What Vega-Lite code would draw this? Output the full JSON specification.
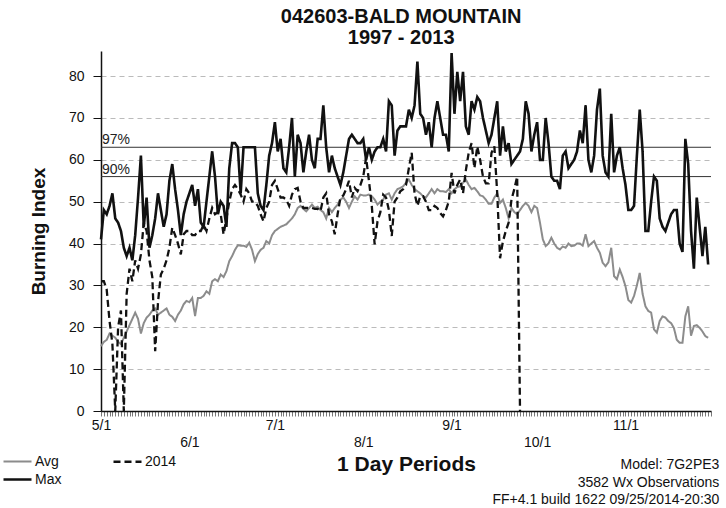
{
  "$schema": "https://vega.github.io/schema/vega-lite/v6.json",
  "background": "white",
  "padding": {"left": 9, "top": 6, "right": 9, "bottom": 4},
  "title": {"text": ["042603-BALD MOUNTAIN", "1997 - 2013"], "fontSize": 20, "fontWeight": "bold", "lineHeight": 21, "anchor": "middle", "color": "#111", "offset": 0, "dx": 37},
  "config": {
    "font": "Liberation Sans",
    "view": {"stroke": null},
    "axis": {"domainColor": "#111", "tickColor": "#111", "labelColor": "#111", "titleColor": "#111"}
  },
  "datasets": {
    "bi": [
      {"date":"2014/05/01","Avg":15.5,"Max":41,"2014":31},
      {"date":"2014/05/02","Avg":16.5,"Max":48,"2014":31},
      {"date":"2014/05/03","Avg":17,"Max":47,"2014":29},
      {"date":"2014/05/04","Avg":18.5,"Max":49,"2014":21.5},
      {"date":"2014/05/05","Avg":18,"Max":52,"2014":16},
      {"date":"2014/05/06","Avg":17.5,"Max":46,"2014":0},
      {"date":"2014/05/07","Avg":16.5,"Max":45,"2014":20},
      {"date":"2014/05/08","Avg":16,"Max":43,"2014":24},
      {"date":"2014/05/09","Avg":17.5,"Max":39,"2014":0},
      {"date":"2014/05/10","Avg":19,"Max":37,"2014":28},
      {"date":"2014/05/11","Avg":20.5,"Max":39,"2014":34},
      {"date":"2014/05/12","Avg":22,"Max":36,"2014":31},
      {"date":"2014/05/13","Avg":23.5,"Max":42,"2014":36},
      {"date":"2014/05/14","Avg":22,"Max":51,"2014":34},
      {"date":"2014/05/15","Avg":18.5,"Max":61,"2014":37.4},
      {"date":"2014/05/16","Avg":21,"Max":44,"2014":45},
      {"date":"2014/05/17","Avg":22.3,"Max":51,"2014":43},
      {"date":"2014/05/18","Avg":23,"Max":39,"2014":36},
      {"date":"2014/05/19","Avg":24,"Max":42,"2014":32},
      {"date":"2014/05/20","Avg":24.5,"Max":46,"2014":14.3},
      {"date":"2014/05/21","Avg":23,"Max":52,"2014":26},
      {"date":"2014/05/22","Avg":23.5,"Max":48,"2014":32.6},
      {"date":"2014/05/23","Avg":24,"Max":44,"2014":34},
      {"date":"2014/05/24","Avg":24.5,"Max":47,"2014":36},
      {"date":"2014/05/25","Avg":23,"Max":55,"2014":39},
      {"date":"2014/05/26","Avg":22.5,"Max":59,"2014":43.8},
      {"date":"2014/05/27","Avg":21.5,"Max":53,"2014":42},
      {"date":"2014/05/28","Avg":23,"Max":48,"2014":40},
      {"date":"2014/05/29","Avg":24,"Max":42,"2014":37.4},
      {"date":"2014/05/30","Avg":25.5,"Max":47,"2014":42.2},
      {"date":"2014/05/31","Avg":26.3,"Max":50,"2014":43},
      {"date":"2014/06/01","Avg":26,"Max":52,"2014":43},
      {"date":"2014/06/02","Avg":27,"Max":54,"2014":42},
      {"date":"2014/06/03","Avg":22.7,"Max":49,"2014":42},
      {"date":"2014/06/04","Avg":27,"Max":53,"2014":43},
      {"date":"2014/06/05","Avg":27,"Max":45,"2014":43},
      {"date":"2014/06/06","Avg":27.5,"Max":44,"2014":44.5},
      {"date":"2014/06/07","Avg":28.6,"Max":50,"2014":43},
      {"date":"2014/06/08","Avg":28,"Max":56,"2014":46},
      {"date":"2014/06/09","Avg":31,"Max":62,"2014":48.5},
      {"date":"2014/06/10","Avg":31.5,"Max":56,"2014":47},
      {"date":"2014/06/11","Avg":31,"Max":47,"2014":47.5},
      {"date":"2014/06/12","Avg":32.6,"Max":50,"2014":47},
      {"date":"2014/06/13","Avg":32,"Max":49,"2014":42.2},
      {"date":"2014/06/14","Avg":33.4,"Max":44,"2014":46},
      {"date":"2014/06/15","Avg":35.8,"Max":58,"2014":50},
      {"date":"2014/06/16","Avg":37,"Max":64,"2014":53},
      {"date":"2014/06/17","Avg":38.5,"Max":64,"2014":54},
      {"date":"2014/06/18","Avg":39.6,"Max":63,"2014":53},
      {"date":"2014/06/19","Avg":39.5,"Max":52,"2014":51.7},
      {"date":"2014/06/20","Avg":39.5,"Max":63,"2014":50},
      {"date":"2014/06/21","Avg":39.2,"Max":63,"2014":53},
      {"date":"2014/06/22","Avg":40.2,"Max":63,"2014":52},
      {"date":"2014/06/23","Avg":38.5,"Max":63,"2014":50},
      {"date":"2014/06/24","Avg":35.8,"Max":63,"2014":50},
      {"date":"2014/06/25","Avg":37.5,"Max":52,"2014":49},
      {"date":"2014/06/26","Avg":38.5,"Max":49,"2014":47},
      {"date":"2014/06/27","Avg":39,"Max":48,"2014":45.3},
      {"date":"2014/06/28","Avg":40.6,"Max":54,"2014":48.5},
      {"date":"2014/06/29","Avg":40,"Max":61,"2014":50},
      {"date":"2014/06/30","Avg":42,"Max":64,"2014":54},
      {"date":"2014/07/01","Avg":43,"Max":69,"2014":55},
      {"date":"2014/07/02","Avg":43.5,"Max":62,"2014":53},
      {"date":"2014/07/03","Avg":44,"Max":65,"2014":51},
      {"date":"2014/07/04","Avg":44.3,"Max":58,"2014":51},
      {"date":"2014/07/05","Avg":44.6,"Max":57,"2014":50.5},
      {"date":"2014/07/06","Avg":45.3,"Max":63,"2014":49},
      {"date":"2014/07/07","Avg":46,"Max":70,"2014":51.7},
      {"date":"2014/07/08","Avg":47,"Max":56,"2014":53},
      {"date":"2014/07/09","Avg":48.5,"Max":66,"2014":53.3},
      {"date":"2014/07/10","Avg":49,"Max":64,"2014":50},
      {"date":"2014/07/11","Avg":48.3,"Max":57,"2014":48.5},
      {"date":"2014/07/12","Avg":47.7,"Max":62,"2014":48.5},
      {"date":"2014/07/13","Avg":48.5,"Max":66,"2014":48.5},
      {"date":"2014/07/14","Avg":49.3,"Max":60,"2014":48.5},
      {"date":"2014/07/15","Avg":48.5,"Max":58,"2014":48.3},
      {"date":"2014/07/16","Avg":48.8,"Max":65,"2014":48.3},
      {"date":"2014/07/17","Avg":48,"Max":65,"2014":47.7},
      {"date":"2014/07/18","Avg":47.5,"Max":73,"2014":51},
      {"date":"2014/07/19","Avg":46,"Max":63,"2014":52},
      {"date":"2014/07/20","Avg":48.5,"Max":57,"2014":47},
      {"date":"2014/07/21","Avg":47.5,"Max":61,"2014":45.3},
      {"date":"2014/07/22","Avg":48.5,"Max":58,"2014":42.2},
      {"date":"2014/07/23","Avg":49.3,"Max":56,"2014":47},
      {"date":"2014/07/24","Avg":50.5,"Max":54,"2014":51},
      {"date":"2014/07/25","Avg":51,"Max":57,"2014":51.5},
      {"date":"2014/07/26","Avg":50,"Max":61,"2014":53},
      {"date":"2014/07/27","Avg":48.5,"Max":65,"2014":55},
      {"date":"2014/07/28","Avg":50,"Max":66,"2014":51},
      {"date":"2014/07/29","Avg":51.3,"Max":65,"2014":53.3},
      {"date":"2014/07/30","Avg":50.5,"Max":64,"2014":52.5},
      {"date":"2014/07/31","Avg":51.7,"Max":64,"2014":54},
      {"date":"2014/08/01","Avg":51.5,"Max":65,"2014":56},
      {"date":"2014/08/02","Avg":51.5,"Max":60,"2014":60.5},
      {"date":"2014/08/03","Avg":51.7,"Max":63,"2014":55},
      {"date":"2014/08/04","Avg":51.3,"Max":60,"2014":49},
      {"date":"2014/08/05","Avg":50.5,"Max":62,"2014":39.8},
      {"date":"2014/08/06","Avg":49.3,"Max":63,"2014":45.3},
      {"date":"2014/08/07","Avg":50,"Max":63,"2014":47.5},
      {"date":"2014/08/08","Avg":50.5,"Max":65,"2014":51.7},
      {"date":"2014/08/09","Avg":51.7,"Max":62,"2014":51},
      {"date":"2014/08/10","Avg":52,"Max":74,"2014":48},
      {"date":"2014/08/11","Avg":50.5,"Max":73,"2014":41.8},
      {"date":"2014/08/12","Avg":52,"Max":61,"2014":50},
      {"date":"2014/08/13","Avg":53,"Max":67,"2014":51},
      {"date":"2014/08/14","Avg":53.3,"Max":68,"2014":52.5},
      {"date":"2014/08/15","Avg":53.7,"Max":68,"2014":53},
      {"date":"2014/08/16","Avg":54.5,"Max":68,"2014":54},
      {"date":"2014/08/17","Avg":55.3,"Max":72,"2014":58},
      {"date":"2014/08/18","Avg":54,"Max":70,"2014":61.7},
      {"date":"2014/08/19","Avg":53,"Max":73,"2014":52},
      {"date":"2014/08/20","Avg":52.5,"Max":83.5,"2014":49},
      {"date":"2014/08/21","Avg":52,"Max":71,"2014":51.3},
      {"date":"2014/08/22","Avg":51.3,"Max":70,"2014":51.3},
      {"date":"2014/08/23","Avg":51,"Max":66,"2014":50},
      {"date":"2014/08/24","Avg":52,"Max":69,"2014":48},
      {"date":"2014/08/25","Avg":53,"Max":63,"2014":48},
      {"date":"2014/08/26","Avg":52,"Max":70,"2014":49},
      {"date":"2014/08/27","Avg":53,"Max":74,"2014":48.5},
      {"date":"2014/08/28","Avg":52.5,"Max":70,"2014":47.3},
      {"date":"2014/08/29","Avg":52.5,"Max":66,"2014":46.5},
      {"date":"2014/08/30","Avg":52.3,"Max":66,"2014":48},
      {"date":"2014/08/31","Avg":53,"Max":62,"2014":50},
      {"date":"2014/09/01","Avg":52,"Max":85.5,"2014":56.9},
      {"date":"2014/09/02","Avg":53,"Max":71,"2014":52},
      {"date":"2014/09/03","Avg":53.5,"Max":81,"2014":54},
      {"date":"2014/09/04","Avg":53.7,"Max":74,"2014":55.3},
      {"date":"2014/09/05","Avg":54.5,"Max":81,"2014":52},
      {"date":"2014/09/06","Avg":55.3,"Max":68,"2014":57.5},
      {"date":"2014/09/07","Avg":54,"Max":66,"2014":61.7},
      {"date":"2014/09/08","Avg":53,"Max":74,"2014":64},
      {"date":"2014/09/09","Avg":53.3,"Max":72,"2014":58},
      {"date":"2014/09/10","Avg":52.5,"Max":75,"2014":63.2},
      {"date":"2014/09/11","Avg":51.5,"Max":74,"2014":60},
      {"date":"2014/09/12","Avg":51.3,"Max":70,"2014":56},
      {"date":"2014/09/13","Avg":50.5,"Max":67,"2014":54.4},
      {"date":"2014/09/14","Avg":49.5,"Max":64,"2014":54.4},
      {"date":"2014/09/15","Avg":49.5,"Max":66,"2014":61.7},
      {"date":"2014/09/16","Avg":51,"Max":70,"2014":63.2},
      {"date":"2014/09/17","Avg":52,"Max":74,"2014":52},
      {"date":"2014/09/18","Avg":49.7,"Max":61,"2014":36.5},
      {"date":"2014/09/19","Avg":50.5,"Max":68,"2014":40.5},
      {"date":"2014/09/20","Avg":48.5,"Max":62,"2014":43},
      {"date":"2014/09/21","Avg":46,"Max":64,"2014":45},
      {"date":"2014/09/22","Avg":48.5,"Max":59,"2014":50.5},
      {"date":"2014/09/23","Avg":47.5,"Max":60,"2014":53},
      {"date":"2014/09/24","Avg":47,"Max":61,"2014":56},
      {"date":"2014/09/25","Avg":48,"Max":62,"2014":0},
      {"date":"2014/09/26","Avg":49,"Max":65},
      {"date":"2014/09/27","Avg":49.7,"Max":74},
      {"date":"2014/09/28","Avg":49,"Max":71},
      {"date":"2014/09/29","Avg":47.5,"Max":62},
      {"date":"2014/09/30","Avg":49,"Max":66},
      {"date":"2014/10/01","Avg":48.5,"Max":69},
      {"date":"2014/10/02","Avg":45,"Max":60},
      {"date":"2014/10/03","Avg":41,"Max":60},
      {"date":"2014/10/04","Avg":39.4,"Max":70},
      {"date":"2014/10/05","Avg":40,"Max":64},
      {"date":"2014/10/06","Avg":41.4,"Max":56},
      {"date":"2014/10/07","Avg":40,"Max":55},
      {"date":"2014/10/08","Avg":39,"Max":55},
      {"date":"2014/10/09","Avg":38.6,"Max":53},
      {"date":"2014/10/10","Avg":39.3,"Max":61},
      {"date":"2014/10/11","Avg":39,"Max":62},
      {"date":"2014/10/12","Avg":40,"Max":58},
      {"date":"2014/10/13","Avg":39.4,"Max":59},
      {"date":"2014/10/14","Avg":39.5,"Max":60},
      {"date":"2014/10/15","Avg":40,"Max":62},
      {"date":"2014/10/16","Avg":40,"Max":67},
      {"date":"2014/10/17","Avg":39.5,"Max":64},
      {"date":"2014/10/18","Avg":42.2,"Max":73},
      {"date":"2014/10/19","Avg":39.4,"Max":60},
      {"date":"2014/10/20","Avg":40,"Max":57},
      {"date":"2014/10/21","Avg":40.6,"Max":61},
      {"date":"2014/10/22","Avg":39,"Max":72},
      {"date":"2014/10/23","Avg":37.8,"Max":77},
      {"date":"2014/10/24","Avg":35.4,"Max":61},
      {"date":"2014/10/25","Avg":34.6,"Max":57},
      {"date":"2014/10/26","Avg":35.5,"Max":56},
      {"date":"2014/10/27","Avg":39,"Max":71},
      {"date":"2014/10/28","Avg":32.2,"Max":57},
      {"date":"2014/10/29","Avg":31.5,"Max":61},
      {"date":"2014/10/30","Avg":33.8,"Max":63},
      {"date":"2014/10/31","Avg":32,"Max":58},
      {"date":"2014/11/01","Avg":29.8,"Max":54},
      {"date":"2014/11/02","Avg":26.5,"Max":48},
      {"date":"2014/11/03","Avg":25.9,"Max":48},
      {"date":"2014/11/04","Avg":27.5,"Max":49},
      {"date":"2014/11/05","Avg":30,"Max":61},
      {"date":"2014/11/06","Avg":33,"Max":72},
      {"date":"2014/11/07","Avg":28,"Max":62},
      {"date":"2014/11/08","Avg":25,"Max":43},
      {"date":"2014/11/09","Avg":23.9,"Max":43},
      {"date":"2014/11/10","Avg":23.5,"Max":50},
      {"date":"2014/11/11","Avg":19.5,"Max":56},
      {"date":"2014/11/12","Avg":18.7,"Max":55},
      {"date":"2014/11/13","Avg":21.5,"Max":46},
      {"date":"2014/11/14","Avg":22.6,"Max":44},
      {"date":"2014/11/15","Avg":22.3,"Max":43},
      {"date":"2014/11/16","Avg":21.5,"Max":45},
      {"date":"2014/11/17","Avg":21,"Max":47},
      {"date":"2014/11/18","Avg":19.8,"Max":48},
      {"date":"2014/11/19","Avg":17,"Max":48},
      {"date":"2014/11/20","Avg":16.3,"Max":40},
      {"date":"2014/11/21","Avg":16.3,"Max":38},
      {"date":"2014/11/22","Avg":22.6,"Max":65},
      {"date":"2014/11/23","Avg":25,"Max":59},
      {"date":"2014/11/24","Avg":18,"Max":43},
      {"date":"2014/11/25","Avg":20.3,"Max":34},
      {"date":"2014/11/26","Avg":20.5,"Max":51},
      {"date":"2014/11/27","Avg":19.9,"Max":44},
      {"date":"2014/11/28","Avg":19,"Max":37},
      {"date":"2014/11/29","Avg":17.9,"Max":44},
      {"date":"2014/11/30","Avg":17.5,"Max":35}
    ],
    "refs": [
      {"v": 63, "label": "97%", "start": "2014/05/01"},
      {"v": 56, "label": "90%", "start": "2014/05/01"}
    ]
  },
  "vconcat": [
    {
      "width": 610,
      "height": 360,
      "title": {"text": ["Model: 7G2PE3", "3582 Wx Observations", "FF+4.1 build 1622 09/25/2014-20:30"], "orient": "bottom", "anchor": "end", "align": "right", "fontSize": 14, "fontWeight": "normal", "lineHeight": 17.5, "color": "#111", "offset": -16, "dx": 6},
      "layer": [
        {
          "data": {"name": "refs"},
          "mark": {"type": "rule", "color": "#333", "strokeWidth": 1},
          "encoding": {
            "y": {"field": "v", "type": "quantitative", "scale": {"domain": [0, 86], "nice": false}}
          }
        },
        {
          "data": {"name": "refs"},
          "mark": {"type": "text", "align": "left", "baseline": "bottom", "fontSize": 14, "color": "#222", "dx": 1, "dy": 0},
          "encoding": {
            "x": {"field": "start", "type": "temporal"},
            "y": {"field": "v", "type": "quantitative"},
            "text": {"field": "label"}
          }
        },
        {
          "data": {"name": "bi"},
          "transform": [
            {"fold": ["Avg", "Max", "2014"], "as": ["series", "value"]},
            {"filter": "isValid(datum.value)"}
          ],
          "mark": {"type": "line", "interpolate": "linear"},
          "encoding": {
            "x": {
              "field": "date", "type": "temporal",
              "scale": {"domain": [{"year": 2014, "month": 5, "date": 1}, {"year": 2014, "month": 12, "date": 1}]},
              "axis": {
                "title": "1 Day Periods", "titleFontSize": 21, "titleFontWeight": "bold", "titlePadding": 4,
                "format": "%-m/%-d", "tickCount": {"interval": "day", "step": 1},
                "labelExpr": "date(datum.value) != 1 || month(datum.value) == 11 ? '' : (month(datum.value) % 2 == 0 ? datum.label : ['', datum.label])",
                "labelOverlap": false, "labelFlush": false, "labelFontSize": 14, "labelLineHeight": 17,
                "labelBaseline": "top", "labelPadding": 2, "tickSize": 5, "tickColor": "#555", "tickWidth": 0.8,
                "grid": false, "domainWidth": 1.5
              }
            },
            "y": {
              "field": "value", "type": "quantitative",
              "axis": {
                "title": "Burning Index", "titleFontSize": 19, "titleFontWeight": "bold", "titlePadding": 20,
                "values": [0, 10, 20, 30, 40, 50, 60, 70, 80], "labelFontSize": 14, "tickSize": 8, "labelPadding": 9,
                "grid": true, "gridDash": [5, 4], "gridColor": "#aaa", "gridWidth": 0.8, "domainWidth": 1.5
              }
            },
            "color": {
              "field": "series", "type": "nominal",
              "scale": {"domain": ["Avg", "2014", "Max"], "range": ["#8c8c8c", "#111111", "#111111"]},
              "legend": {"orient": "none", "legendX": -92, "legendY": 402, "direction": "horizontal", "columns": 2, "title": null, "values": ["Avg", "2014", "Max"], "symbolType": "M-2,0H2", "symbolSize": 196, "labelFontSize": 14, "labelColor": "#111", "columnPadding": 46, "rowPadding": 2, "labelOffset": 9}
            },
            "strokeDash": {
              "field": "series", "type": "nominal",
              "scale": {"domain": ["Avg", "2014", "Max"], "range": [[1, 0], [7, 4], [1, 0]]}
            },
            "strokeWidth": {
              "field": "series", "type": "nominal",
              "scale": {"domain": ["Avg", "2014", "Max"], "range": [2, 2.6, 1.4]}
            }
          }
        }
      ]
    }
  ]
}
